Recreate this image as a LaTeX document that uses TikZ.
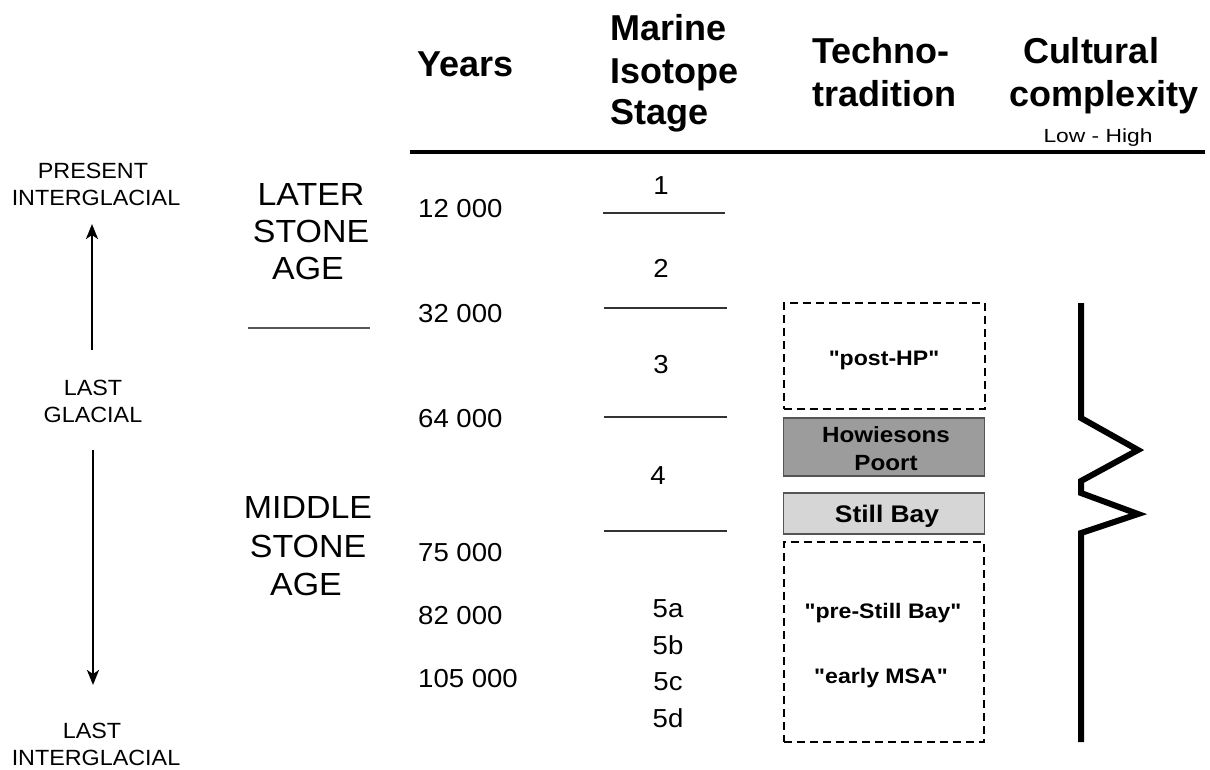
\documentclass[tikz,border=0pt]{standalone}
\usepackage{fontspec}
\setmainfont{Liberation Sans}
\newfontfamily\hb{Liberation Sans}
\newfontfamily\tb{Liberation Sans}[FakeStretch=1.1]
\newfontfamily\rg{Liberation Sans}[FakeStretch=1.06]
\newfontfamily\rgw{Liberation Sans}[FakeStretch=1.2]
\newcommand{\myfs}[1]{\fontsize{#1}{#1}\selectfont}
\usetikzlibrary{arrows.meta}
\definecolor{hpgray}{HTML}{9C9C9C}
\definecolor{sbgray}{HTML}{D6D6D6}
\definecolor{edgegray}{HTML}{555555}
\tikzset{
  hdr/.style={font=\hb\bfseries\myfs{36}, inner sep=0pt, anchor=base west},
  hdrc/.style={font=\hb\bfseries\myfs{36}, inner sep=0pt, anchor=base},
  side/.style={font=\rg\myfs{22}, inner sep=0pt, anchor=base},
  age/.style={font=\rg\myfs{32}, inner sep=0pt, anchor=base},
  yr/.style={font=\rg\myfs{26}, inner sep=0pt, anchor=base west},
  mis/.style={font=\rg\myfs{26}, inner sep=0pt, anchor=base},
  misline/.style={draw=black!80, line width=1.5pt},
  clim/.style={line width=2.4pt, -{Stealth[length=15pt,width=12pt,inset=4pt]}},
  techbox/.style={draw, line width=1.5pt, minimum width=201pt, inner sep=0pt},
  dashbox/.style={techbox, line width=2pt, dash pattern=on 8pt off 5pt, fill=none},
  tbtext/.style={font=\tb\bfseries\myfs{21}, inner sep=0pt, anchor=base},
}
\begin{document}
\begin{tikzpicture}[x=1pt,y=-1pt]
\useasboundingbox (0,0) rectangle (1210,769);
% header
\node[hdr] (years) at (417,76) {Years};
\node[hdr] (mis1) at (610,40) {Marine};
\node[hdr] (mis2) at (610,83) {Isotope};
\node[hdr] (mis3) at (610,124) {Stage};
\node[hdr] (tech1) at (812,63) {Techno-};
\node[hdr] (tech2) at (812,106) {tradition};
\node[hdrc] (cult1) at (1091,63) {Cultural};
\node[hdrc] (cult2) at (1104,106) {complexity};
\node[font=\rgw\myfs{19}, inner sep=0pt, anchor=base] (lowhigh) at (1098,142) {Low - High};
\coordinate (ruleL) at (410,152);
\coordinate (ruleR) at (1205,152);
\draw[line width=3.5pt] (ruleL) -- (ruleR);
% climate column
\node[side] (pres1) at (93,178) {PRESENT};
\node[side] (pres2) at (96,205) {INTERGLACIAL};
\node[side] (lg1) at (93,395) {LAST};
\node[side] (lg2) at (93,422) {GLACIAL};
\node[side] (li1) at (92,738) {LAST};
\node[side] (li2) at (96,765) {INTERGLACIAL};
\coordinate (upS) at (92,350);
\coordinate (upE) at (92,224);
\coordinate (dnS) at (93,450);
\coordinate (dnE) at (93,685);
\draw[clim] (upS) -- (upE);
\draw[clim] (dnS) -- (dnE);
% ages
\node[age] (lsa1) at (311,205) {LATER};
\node[age] (lsa2) at (311,242) {STONE};
\node[age] (lsa3) at (308,279) {AGE};
\coordinate (ageL) at (248,328);
\coordinate (ageR) at (370,328);
\draw[draw=edgegray, line width=2pt] (ageL) -- (ageR);
\node[age] (msa1) at (308,518) {MIDDLE};
\node[age] (msa2) at (308,557) {STONE};
\node[age] (msa3) at (306,595) {AGE};
% years
\node[yr] (y1) at (418,217) {12 000};
\node[yr] (y2) at (418,322) {32 000};
\node[yr] (y3) at (418,427) {64 000};
\node[yr] (y4) at (418,561) {75 000};
\node[yr] (y5) at (418,624) {82 000};
\node[yr] (y6) at (418,687) {105 000};
% MIS
\node[mis] (s1) at (661,194) {1};
\node[mis] (s2) at (661,277) {2};
\node[mis] (s3) at (661,373) {3};
\node[mis] (s4) at (658,484) {4};
\node[mis] (s5a) at (668,617) {5a};
\node[mis] (s5b) at (668,654) {5b};
\node[mis] (s5c) at (668,690) {5c};
\node[mis] (s5d) at (668,727) {5d};
\coordinate (l1a) at (603,213); \coordinate (l1b) at (725,213);
\coordinate (l2a) at (604,308); \coordinate (l2b) at (727,308);
\coordinate (l3a) at (604,417); \coordinate (l3b) at (727,417);
\coordinate (l4a) at (604,531); \coordinate (l4b) at (727,531);
\draw[misline] (l1a) -- (l1b);
\draw[misline] (l2a) -- (l2b);
\draw[misline] (l3a) -- (l3b);
\draw[misline] (l4a) -- (l4b);
% techno-traditions
\node[dashbox, minimum height=106pt] (posthp) at (884,356) {};
\node[tbtext] (posthpt) at (884,365) {"post-HP"};
\node[techbox, draw=edgegray, fill=hpgray, minimum height=58pt] (hp) at (884,447) {};
\node[tbtext, font=\tb\bfseries\myfs{22}] (hpt1) at (886,442) {Howiesons};
\node[tbtext, font=\tb\bfseries\myfs{22}] (hpt2) at (886,470) {Poort};
\node[techbox, draw=edgegray, fill=sbgray, minimum height=41pt] (sb) at (884,513.5) {};
\node[tbtext, font=\tb\bfseries\myfs{24}] (sbt) at (887,522) {Still Bay};
\node[dashbox, minimum height=200pt, minimum width=200pt] (presb) at (884,642) {};
\node[tbtext] (presbt) at (883,618) {"pre-Still Bay"};
\node[tbtext] (emsat) at (881,683) {"early MSA"};
% cultural complexity
\coordinate (c0) at (1081,303);
\coordinate (c1) at (1081,418);
\coordinate (c2) at (1138,450);
\coordinate (c3) at (1081,481);
\coordinate (c4) at (1081,493);
\coordinate (c5) at (1138,514);
\coordinate (c6) at (1081,533);
\coordinate (c7) at (1081,742);
\draw[line width=6pt, line join=miter] (c0) -- (c1) -- (c2) -- (c3) -- (c4) -- (c5) -- (c6) -- (c7);
\end{tikzpicture}
\end{document}
